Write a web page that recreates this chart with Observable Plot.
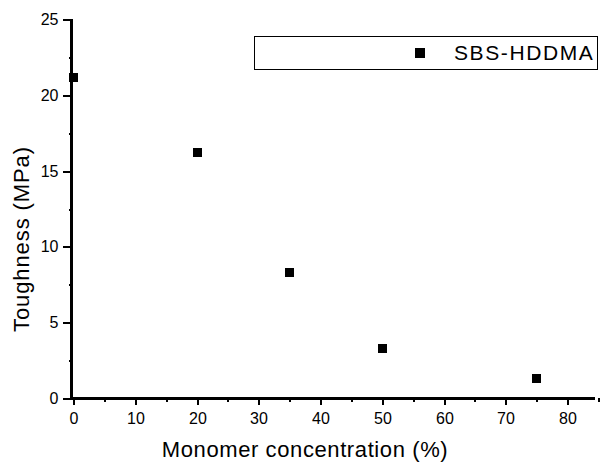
<!DOCTYPE html>
<html>
<head>
<meta charset="utf-8">
<script src="https://cdn.jsdelivr.net/npm/d3@7"></script>
<script src="https://cdn.jsdelivr.net/npm/@observablehq/plot@0.6"></script>
<style>
  html, body { margin: 0; padding: 0; background: #fff; }
  #wrap { position: relative; width: 603px; height: 463px; font-family: "Liberation Sans", Arial, sans-serif; }
  #legend { position: absolute; left: 254px; top: 36px; width: 342px; height: 32px; border: 1.5px solid #000; background: #fff; }
  #legend .sw { position: absolute; left: 160px; top: 11px; width: 10px; height: 10px; background: #000; }
  #legend .lb { position: absolute; left: 199px; top: 4px; font-size: 21px; line-height: 24px; color: #000; letter-spacing: 1.6px; }
  svg line, svg path { shape-rendering: crispEdges; }
</style>
</head>
<body>
<div id="wrap"></div>
<script>
const seriesName = "SBS-HDDMA";
const concentration = [0, 20, 35, 50, 75];
const toughness = [21.2, 16.2, 8.3, 3.3, 1.3];
const xMajor = [0, 10, 20, 30, 40, 50, 60, 70, 80];
const xMinor = [5, 15, 25, 35, 45, 55, 65, 75, 85];
const yMajor = [0, 5, 10, 15, 20, 25];
const yMinor = [2.5, 7.5, 12.5, 17.5, 22.5];
const xTitle = "Monomer concentration (%)";
const yTitle = "Toughness (MPa)";

const data = concentration.map((c, i) => ({c, t: toughness[i]}));

const chart = Plot.plot({
  width: 603,
  height: 463,
  marginLeft: 73,
  marginRight: 5,
  marginTop: 19,
  marginBottom: 65,
  style: { fontFamily: "'Liberation Sans', Arial, sans-serif", color: "#000", background: "#fff" },
  x: { domain: [0, 85], round: true },
  y: { domain: [0, 25], round: true },
  marks: [
    Plot.axisX({ ticks: xMajor, tickSize: 7, tickPadding: 7, fontSize: 16, label: null, stroke: "#000", strokeWidth: 2, dx: 0.5 }),
    Plot.axisX({ ticks: xMinor, tickSize: 4, text: null, label: null, stroke: "#000", strokeWidth: 2, dx: 0.5 }),
    Plot.axisY({ ticks: yMajor, tickSize: 10, tickPadding: 5, fontSize: 16, label: null, stroke: "#000", strokeWidth: 2, dy: 0.5 }),
    Plot.axisY({ ticks: yMinor, tickSize: 4, text: null, label: null, stroke: "#000", strokeWidth: 2, dy: 0.5 }),
    Plot.ruleY([0], { stroke: "#000", strokeWidth: 3, x1: 0, x2: 85, dx: -3 }),
    Plot.ruleX([0], { stroke: "#000", strokeWidth: 3, y1: 0, y2: 25, dx: -2.5 }),
    Plot.dot(data, { x: "c", y: "t", symbol: "square", r: 5.6, fill: "#000", stroke: null }),
    Plot.text([xTitle], { frameAnchor: "bottom", textAnchor: "middle", lineAnchor: "bottom", dx: -31, dy: 58, fontSize: 22, fill: "#000" }),
    Plot.text([yTitle], { frameAnchor: "left", textAnchor: "middle", lineAnchor: "bottom", rotate: -90, dx: -45, dy: 30, fontSize: 22, fill: "#000" })
  ]
});

d3.select(chart).selectAll("text")
  .filter(function () { return this.textContent === xTitle; })
  .style("letter-spacing", "0.6px");
d3.select(chart).selectAll("text")
  .filter(function () { return this.textContent === yTitle; })
  .style("letter-spacing", "0.9px");

const wrap = document.getElementById("wrap");
wrap.appendChild(chart);
const legend = document.createElement("div");
legend.id = "legend";
legend.innerHTML = `<span class="sw"></span><span class="lb">${seriesName}</span>`;
wrap.appendChild(legend);
</script>
</body>
</html>
